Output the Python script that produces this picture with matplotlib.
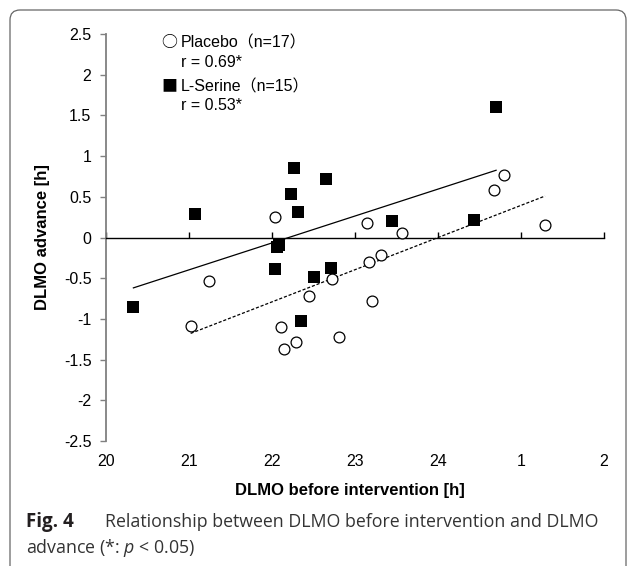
import matplotlib
matplotlib.use("Agg")
import matplotlib.pyplot as plt
import numpy as np
from matplotlib.patches import FancyBboxPatch
from matplotlib.transforms import IdentityTransform

# values (x = clock hour, 25 = 1 am, 26 = 2 am)
placebo_x = [21.02, 21.24, 22.04, 22.11, 22.15, 22.29, 22.45, 22.72, 22.81,
             23.15, 23.17, 23.20, 23.31, 23.57, 24.67, 24.79, 25.29]
placebo_y = [-1.09, -0.53, 0.25, -1.10, -1.37, -1.28, -0.72, -0.51, -1.22,
             0.18, -0.30, -0.78, -0.21, 0.05, 0.58, 0.77, 0.15]
serine_x = [20.33, 21.07, 22.04, 22.06, 22.08, 22.23, 22.27, 22.31, 22.35,
            22.50, 22.65, 22.71, 23.44, 24.43, 24.70]
serine_y = [-0.85, 0.29, -0.39, -0.12, -0.09, 0.53, 0.85, 0.31, -1.03,
            -0.49, 0.72, -0.37, 0.20, 0.21, 1.60]

x_ticks = [20, 21, 22, 23, 24, 25, 26]
x_labels = ["20", "21", "22", "23", "24", "1", "2"]
y_ticks = [2.5, 2, 1.5, 1, 0.5, 0, -0.5, -1, -1.5, -2, -2.5]
y_labels = ["2.5", "2", "1.5", "1", "0.5", "0", "-0.5", "-1", "-1.5", "-2", "-2.5"]

legend_symbols = ["\u25cb", "", "\u25a0", ""]
legend_lines = ["Placebo\uff08n=17\uff09", "r = 0.69*",
                "L-Serine\uff08n=15\uff09", "r = 0.53*"]

W, H = 629, 566
plt.rcParams["font.family"] = ["Liberation Sans", "Noto Sans CJK JP", "DejaVu Sans"]
plt.rcParams["mathtext.fontset"] = "custom"
plt.rcParams["mathtext.rm"] = "Open Sans"
plt.rcParams["mathtext.it"] = "Open Sans:italic"

fig = plt.figure(figsize=(W / 100, H / 100), dpi=100)


def px(x, y):
    return x / W, 1 - y / H


ax = fig.add_axes([106 / W, 1 - 441 / H, 498 / W, 407 / H])

# regression lines over each group's x range
for xs, ys, style in [(serine_x, serine_y, "-"), (placebo_x, placebo_y, (0, (2.5, 1.5)))]:
    k, b = np.polyfit(xs, ys, 1)
    xx = np.array([min(xs), max(xs)])
    ax.plot(xx, k * xx + b, color="black", lw=0.9, linestyle=style, zorder=2)

ax.plot(placebo_x, placebo_y, "o", ms=7.8, mfc="white", mec="black", mew=0.9, zorder=3)
ax.plot(serine_x, serine_y, "s", ms=8.0, mfc="black", mec="black", mew=0, zorder=3)

ax.set_xlim(20, 26)
ax.set_ylim(-2.5, 2.5)
ax.spines["top"].set_visible(False)
ax.spines["right"].set_visible(False)
ax.spines["left"].set_color("#808080")
ax.spines["left"].set_linewidth(1.3)
ax.spines["bottom"].set_position(("data", 0))
ax.spines["bottom"].set_linewidth(1.0)

ax.set_xticks(x_ticks)
ax.tick_params(axis="x", direction="in", length=4, width=1, labelbottom=False)
ax.set_yticks(y_ticks, labels=y_labels)
ax.tick_params(axis="y", direction="out", length=4.5, width=1, color="#808080",
               pad=6, labelsize=11.5)

sec = ax.secondary_xaxis("bottom")
sec.set_xticks(x_ticks, labels=x_labels)
sec.spines["bottom"].set_visible(False)
sec.tick_params(length=0, pad=9, labelsize=11.5)

fig.text(*px(350, 491), "DLMO before intervention [h]", fontsize=12,
         fontweight="bold", ha="center", va="center")
fig.text(*px(43, 237), "DLMO advance [h]", fontsize=12, fontweight="bold",
         ha="center", va="center", rotation=90)

baselines = [47.3, 66.7, 91.7, 110]
for y, sym, s in zip(baselines, legend_symbols, legend_lines):
    if sym:
        fig.text(*px(161, y), sym, fontsize=11.5, va="baseline",
                 fontfamily=["Noto Sans CJK JP", "DejaVu Sans"])
    fig.text(*px(181, y), s, fontsize=11.5, va="baseline",
             fontfamily=["Liberation Sans", "Noto Sans CJK JP", "DejaVu Sans"])

# caption
fig.text(*px(26, 527), "Fig. 4", fontsize=13.5, fontweight="bold",
         fontfamily="Open Sans", color="#231f20", va="baseline")
fig.text(*px(105, 527), "Relationship between DLMO before intervention and DLMO",
         fontsize=12.8, fontfamily="Open Sans", color="#333333", va="baseline")
fig.text(*px(26, 553), r"advance (*: $p$ < 0.05)", fontsize=12.8,
         fontfamily="Open Sans", color="#333333", va="baseline")

frame = FancyBboxPatch((10, -20), 616, 566 - 10 + 20,
                       boxstyle="round,pad=0,rounding_size=10",
                       transform=IdentityTransform(), fill=False,
                       edgecolor="#666666", lw=0.9)
fig.add_artist(frame)

fig.savefig("out.png", dpi=100)
